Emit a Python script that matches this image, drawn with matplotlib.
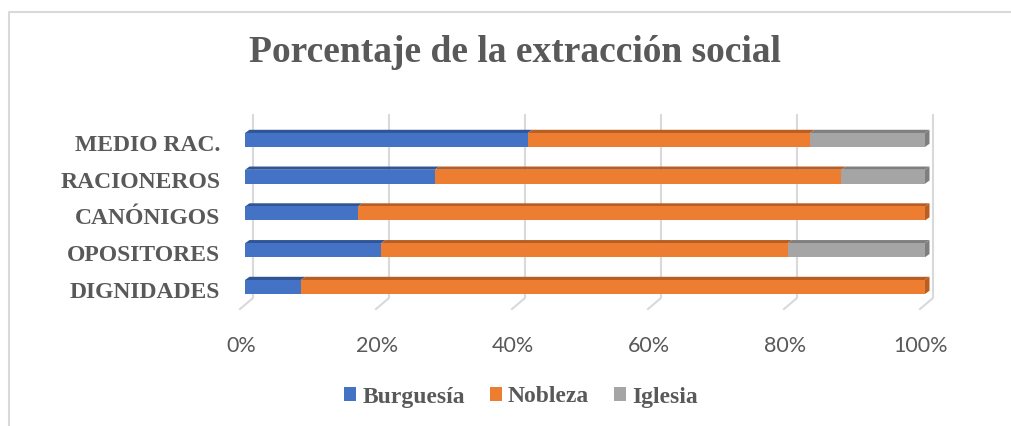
import numpy as np
import matplotlib
matplotlib.use("Agg")
from matplotlib import pyplot as plt
from matplotlib.patches import Polygon, Patch
from matplotlib.lines import Line2D
from matplotlib.transforms import ScaledTranslation

categories = ["DIGNIDADES", "OPOSITORES", "CANÓNIGOS", "RACIONEROS", "MEDIO RAC."]
burguesia = [8.2, 20.0, 16.6, 27.9, 41.6]
nobleza = [91.8, 59.8, 83.4, 59.8, 41.5]
iglesia = [0.0, 20.2, 0.0, 12.3, 16.9]
series_names = ["Burguesía", "Nobleza", "Iglesia"]
xticks = [0, 20, 40, 60, 80, 100]
xtick_labels = ["0%", "20%", "40%", "60%", "80%", "100%"]

front = ["#4472C4", "#ED7D31", "#A5A5A5"]
top = ["#2F5597", "#B85E22", "#7F7F7F"]
grey_txt = "#595959"
serif = "Liberation Serif"

W, H, DPI = 1011, 426, 100
fig = plt.figure(figsize=(W / DPI, H / DPI), dpi=DPI)

xlim = (-2.0, 103.0)
ylim = (-0.7, 4.75)
# axes placed in pixels
left_px, right_px = 231.4, 945.4
top_px, bot_px = 112.4, 312.7
ax = fig.add_axes([left_px / W, 1 - bot_px / H, (right_px - left_px) / W, (bot_px - top_px) / H])
ax.set_xlim(*xlim)
ax.set_ylim(*ylim)
for s in ax.spines.values():
    s.set_visible(False)

# pixel -> data conversion
px_x = (xlim[1] - xlim[0]) / (right_px - left_px)
px_y = (ylim[1] - ylim[0]) / (bot_px - top_px)

# 3D-ish gridlines: back wall + slanted floor
for t in xticks:
    xb = t + 8 * px_x
    xf = t - 5 * px_x
    ax.add_line(Line2D([xb, xb, xf], [4.68, -0.30, -0.60], color="#d9d9d9", lw=1.5, zorder=0))

y = np.arange(len(categories))
bh = 0.38
dx, dy = 4.5 * px_x, 3.2 * px_y
data = [burguesia, nobleza, iglesia]
left = np.zeros(len(categories))
for k, vals in enumerate(data):
    vals = np.array(vals)
    ax.barh(y, vals, left=left, height=bh, color=front[k], zorder=3, label=series_names[k])
    for i in range(len(categories)):
        if vals[i] <= 0:
            continue
        l, r = left[i], left[i] + vals[i]
        tp = y[i] + bh / 2
        ax.add_patch(Polygon([(l, tp), (r, tp), (r + dx, tp + dy), (l + dx, tp + dy)],
                             closed=True, facecolor=top[k], edgecolor="none", zorder=2))
        if r >= 99.9:
            bt = y[i] - bh / 2
            ax.add_patch(Polygon([(r, tp), (r + dx, tp + dy), (r + dx, bt + dy), (r, bt)],
                                 closed=True, facecolor=top[k], edgecolor="none", zorder=2))
    left = left + vals

ax.set_yticks(y)
ax.set_yticklabels(categories, fontfamily=serif, fontweight="bold", fontsize=17, color=grey_txt)
ax.tick_params(axis="y", length=0, pad=8)
for lab in ax.get_yticklabels():
    lab.set_transform(lab.get_transform() + ScaledTranslation(0, -3 / DPI, fig.dpi_scale_trans))

ax.set_xticks(xticks)
ax.set_xticklabels(xtick_labels, fontfamily="Lato", fontsize=15.5, color=grey_txt)
ax.tick_params(axis="x", length=0, pad=17)
for lab in ax.get_xticklabels():
    lab.set_transform(lab.get_transform() + ScaledTranslation(-4 / DPI, 0, fig.dpi_scale_trans))

fig.text(515 / W, 1 - 52 / H, "Porcentaje de la extracción social", ha="center", va="center",
         fontfamily=serif, fontweight="bold", fontsize=27, color=grey_txt)

handles = [Patch(facecolor=front[k], label=series_names[k]) for k in range(3)]
leg = fig.legend(handles=handles, loc="center", bbox_to_anchor=(521 / W, 1 - 397 / H), ncol=3,
                 frameon=False, handlelength=0.52, handleheight=0.52, handletextpad=0.25,
                 columnspacing=1.05, prop={"family": serif, "weight": "bold", "size": 17})
for txt in leg.get_texts():
    txt.set_color(grey_txt)

# chart border (left and top only visible)
fig.add_artist(Line2D([9 / W, 9 / W, 1010 / W], [0, 1 - 12 / H, 1 - 12 / H],
                      transform=fig.transFigure, color="#d9d9d9", lw=1.5))

fig.savefig("out.png", dpi=DPI)
